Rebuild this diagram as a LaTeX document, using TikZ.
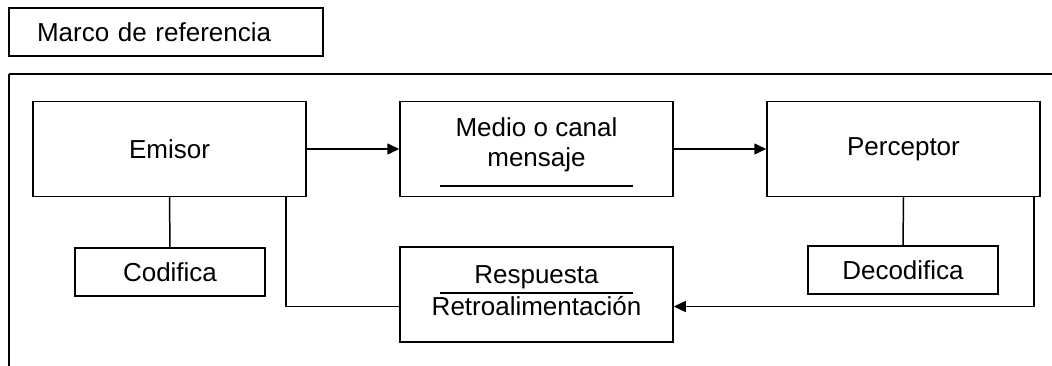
\documentclass[tikz,border=0pt]{standalone}
\usepackage{fontspec}
\setmainfont{Liberation Sans}
\usetikzlibrary{arrows.meta,calc}
\begin{document}
\begin{tikzpicture}[x=1pt,y=-1pt,
  box/.style={draw,line width=1.5pt,rectangle,inner sep=0pt,align=center,
    font=\fontsize{26}{31}\selectfont},
  conn/.style={line width=1.5pt},
  arr/.style={line width=1.5pt,-{Triangle[length=12pt,width=11pt]}}]
\useasboundingbox (0,0) rectangle (1052,366);
% outer frame (top and left sides)
\draw[conn] (9,74) -- (1052,74);
\draw[conn] (9,74) -- (9,366);
% title box
\node[box,minimum height=48pt,text width=258pt,inner xsep=28pt,align=left] (marco) at (166,32) {Marco de referencia};
% main boxes
\node[box,minimum width=273pt,minimum height=95pt] (emisor) at (169.5,149) {Emisor};
\node[box,minimum width=273pt,minimum height=95pt] (medio) at (536.5,149) {};
\node[font=\fontsize{26}{30}\selectfont,align=center,inner sep=0pt] (mediotxt) at (536.5,145) {Medio o canal\\mensaje};
\node[box,minimum width=273pt,minimum height=95pt] (perc) at (903.5,149) {Perceptor};
\node[box,minimum width=190pt,minimum height=48pt] (codif) at (170,272) {Codifica};
\node[box,minimum width=190pt,minimum height=48pt] (decod) at (903,270) {Decodifica};
\node[box,minimum width=273pt,minimum height=95pt] (resp) at (536.5,294.5) {};
\node[font=\fontsize{26}{32}\selectfont,align=center,inner sep=0pt] (resptxt) at (536.5,291) {Respuesta\\Retroalimentación};
% rules under text
\draw[conn] ($(medio.center)+(-96.5,37)$) -- ($(medio.center)+(96.5,37)$);
\draw[conn] ($(resp.center)+(-96.5,-1.5)$) -- ($(resp.center)+(96.5,-1.5)$);
% connectors
\draw[arr] (emisor.east) -- (medio.west);
\draw[arr] (medio.east) -- (perc.west);
\draw[conn] (emisor.south) -- (codif.north);
\draw[conn] (perc.south) -- (decod.north);
\coordinate (fbtop) at ($(perc.south east)+(-7,0)$);
\coordinate (fbin) at ($(resp.east)+(0,12)$);
\draw[arr] (fbtop) |- (fbin);
\coordinate (rbtop) at ($(emisor.south east)+(-21,0)$);
\coordinate (rbout) at ($(resp.west)+(0,12)$);
\draw[conn] (rbout) -| (rbtop);
\end{tikzpicture}
\end{document}
